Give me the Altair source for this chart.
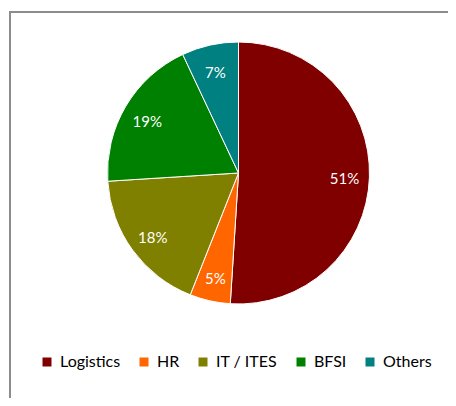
import altair as alt
import pandas as pd

categories = ["Logistics", "HR", "IT / ITES", "BFSI", "Others"]
shares = [51, 5, 18, 19, 7]
colors = ["#800000", "#FF6600", "#808000", "#008000", "#008080"]
order = [0, 1, 2, 3, 4]

df = pd.DataFrame({"cat": categories, "val": shares, "ord": order,
                   "label": [f"{v}%" for v in shares]})

CX, CY = 230.5, 165

base = alt.Chart(df).encode(
    theta=alt.Theta("val:Q", stack=True),
    order=alt.Order("ord:Q"),
    x=alt.value(CX), y=alt.value(CY),
)

pie = base.mark_arc(outerRadius=131, stroke="white", strokeWidth=1).encode(
    color=alt.Color("cat:N", scale=alt.Scale(domain=categories, range=colors),
                    sort=categories,
                    legend=alt.Legend(orient="none", direction="horizontal", columns=5,
                                      legendX=31, legendY=346, title=None,
                                      symbolType="square", symbolSize=81,
                                      symbolStrokeWidth=0, labelFont="Lato",
                                      labelFontSize=16, labelColor="#000000",
                                      labelOffset=5, columnPadding=15,
                                      labelLimit=200))
)

labels = base.mark_text(radius=106, color="white", font="Lato", fontSize=15,
                        dy=3).encode(text="label:N")

border_top = alt.Chart(df).mark_rule(color="#8c8c8c", strokeWidth=2).encode(
    x=alt.value(1), x2=alt.value(440), y=alt.value(4))
border_left = alt.Chart(df).mark_rule(color="#8c8c8c", strokeWidth=2).encode(
    x=alt.value(2), y=alt.value(3), y2=alt.value(390))

chart = alt.layer(pie, labels, border_top, border_left).properties(
    width=440, height=390, autosize=alt.AutoSizeParams(type="none"), padding=0
).configure_view(stroke=None)

chart.save("out.html", embed_options={"renderer": "svg", "actions": False})
